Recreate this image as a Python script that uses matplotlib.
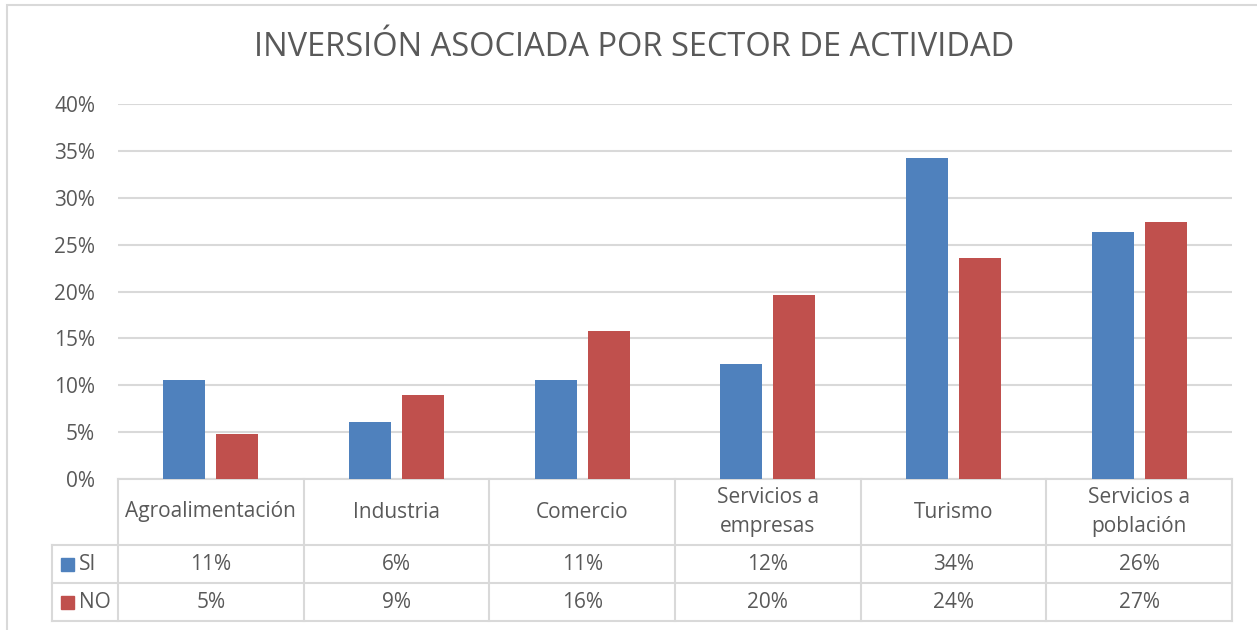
import numpy as np
import matplotlib
matplotlib.use("Agg")
import matplotlib.pyplot as plt
from matplotlib.patches import Rectangle
from matplotlib.lines import Line2D

categories = ["Agroalimentación", "Industria", "Comercio",
              "Servicios a\nempresas", "Turismo", "Servicios a\npoblación"]
series_names = ["SI", "NO"]
si_values = [10.6, 6.1, 10.6, 12.3, 34.2, 26.3]
no_values = [4.8, 9.0, 15.8, 19.6, 23.6, 27.4]
yticks = [0, 5, 10, 15, 20, 25, 30, 35, 40]

colors = ["#4F81BD", "#C0504D"]
text_col = "#595959"
line_col = "#D9D9D9"
plt.rcParams['font.family'] = ['Open Sans', 'DejaVu Sans']
fs = 15

W, H = 1257, 630
fig = plt.figure(figsize=(W / 100, H / 100), dpi=100)
ax = fig.add_axes([118 / W, 1 - 479 / H, (1232 - 118) / W, (479 - 104) / H])

x = np.arange(len(categories))
bw = 0.226
off = 0.143
ax.bar(x - off, si_values, bw, color=colors[0], zorder=3)
ax.bar(x + off, no_values, bw, color=colors[1], zorder=3)

ax.set_xlim(-0.5, len(categories) - 0.5)
ax.set_ylim(0, 40)
ax.set_yticks(yticks)
ax.set_yticklabels([f"{t}%" for t in yticks], color=text_col, fontsize=fs)
ax.tick_params(axis='y', length=0, pad=16.5)
ax.tick_params(axis='x', length=0, labelbottom=False)
ax.yaxis.grid(True, color=line_col, linewidth=1.5, zorder=0)
for s in ax.spines.values():
    s.set_visible(False)

# data table under the plot (axes coordinates)
ah = 479 - 104
aw = 1232 - 118
y0, y1, y2, y3 = 0, -66 / ah, -104 / ah, -142 / ah
xl = (52 - 118) / aw
n = len(categories)
tr = ax.transAxes
kw = dict(transform=tr, color=line_col, linewidth=1.5, clip_on=False)
# horizontal lines
ax.add_line(Line2D([0, 1], [y0, y0], **kw))
for yy in (y1, y2, y3):
    ax.add_line(Line2D([xl, 1], [yy, yy], **kw))
# vertical lines
ax.add_line(Line2D([xl, xl], [y1, y3], **kw))
for i in range(n + 1):
    ax.add_line(Line2D([i / n, i / n], [y0, y3], **kw))

for i, c in enumerate(categories):
    ax.text((i + 0.5) / n, (y0 + y1) / 2, c, transform=tr, ha='center',
            va='center', color=text_col, fontsize=fs, linespacing=1.55)
for row, (vals, name, col) in enumerate(zip([si_values, no_values],
                                             series_names, colors)):
    yc = (y1 + y2) / 2 if row == 0 else (y2 + y3) / 2
    for i, v in enumerate(vals):
        ax.text((i + 0.5) / n, yc, f"{v:.0f}%", transform=tr, ha='center',
                va='center', color=text_col, fontsize=fs)
    ax.add_patch(Rectangle(((61 - 118) / aw, yc - 6.5 / ah), 13 / aw, 13 / ah,
                           transform=tr, color=col, clip_on=False))
    ax.text((79 - 118) / aw, yc, name, transform=tr, ha='left', va='center',
            color=text_col, fontsize=fs)

fig.text(634 / W, 1 - 48 / H, "INVERSIÓN ASOCIADA POR SECTOR DE ACTIVIDAD",
         ha='center', va='center', color=text_col, fontsize=23.5)

# chart border
fig.patches.append(Rectangle((7 / W, -0.1), 1.2, 1 - 5 / H + 0.1,
                             transform=fig.transFigure, fill=False,
                             edgecolor=line_col, linewidth=1.5))

fig.savefig("out.png", dpi=100)
